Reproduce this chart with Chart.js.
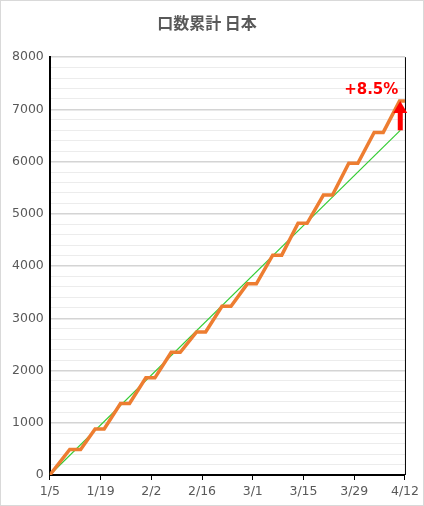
<!DOCTYPE html>
<html><head><meta charset="utf-8">
<script src="https://cdn.jsdelivr.net/npm/chart.js@4"></script>
<style>html,body{margin:0;padding:0;background:#fff}#w{position:absolute;left:0;top:0;width:422px;height:504px;border:1px solid #d9d9d9}canvas{display:block}</style>
</head><body><div id="w"><canvas id="c" width="422" height="504"></canvas></div>
<script>
const tickLabels = ["1/5","1/19","2/2","2/16","3/1","3/15","3/29","4/12"];
const levels = [490,880,1370,1860,2350,2740,3230,3660,4210,4820,5360,5970,6560,7160];
const plateauStart = [5.5,12.5,19.5,26.5,33.5,40.5,47.5,54.5,61.5,68.5,75.5,82.5,89.5,96.5];
const plateauEnd   = [8.5,15.0,22.0,29.0,36.0,43.0,50.0,57.0,64.0,71.0,78.0,85.0,92.0,98];
const trendX = [0,96.7];
const trendY = [0,6600];
const pctLabel = "+8.5%";

const actual = [{x:0,y:0}];
levels.forEach((v,i)=>{actual.push({x:plateauStart[i],y:v});actual.push({x:plateauEnd[i],y:v});});
const trend = trendX.map((x,i)=>({x,y:trendY[i]}));

const arrowPlugin = {id:'arrow',afterDatasetsDraw(ch){
  const {ctx,scales:{x,y},chartArea:a}=ch;
  ctx.save();
  ctx.strokeStyle='#000';ctx.lineWidth=1;
  ctx.beginPath();ctx.moveTo(a.right+0.5,a.top);ctx.lineTo(a.right+0.5,a.bottom);ctx.stroke();
  const px=x.getPixelForValue(trendX[1]);
  const y0=y.getPixelForValue(trendY[1]);
  const y1=y.getPixelForValue(levels[levels.length-1]);
  ctx.fillStyle='#ff0000';
  ctx.fillRect(px-2.5,y1+10,5,y0-y1-10);
  ctx.beginPath();ctx.moveTo(px,y1);ctx.lineTo(px-7,y1+12);ctx.lineTo(px+7,y1+12);ctx.closePath();ctx.fill();
  ctx.font='bold 15px "DejaVu Sans", sans-serif';ctx.textAlign='center';ctx.textBaseline='bottom';
  ctx.fillText(pctLabel,px-29,y1-3);
  ctx.restore();
}};

new Chart(document.getElementById('c'),{
  type:'scatter',
  data:{datasets:[
    {data:trend,showLine:true,borderColor:'#33cc33',borderWidth:1.2,pointRadius:0,order:2},
    {data:actual,showLine:true,borderColor:'#ed7d31',borderWidth:3.5,pointRadius:0,order:1}
  ]},
  options:{responsive:false,animation:false,
    layout:{padding:{left:5,right:15,top:0,bottom:2}},
    plugins:{legend:{display:false},tooltip:{enabled:false},
      title:{display:true,text:'口数累計 日本',color:'#595959',font:{size:16,weight:'bold',family:'"Noto Sans CJK JP", sans-serif'},padding:{top:12,bottom:25}}},
    scales:{
      x:{type:'linear',min:0,max:98,
        afterBuildTicks(s){s.ticks=tickLabels.map((_,i)=>({value:i*14}));},
        ticks:{callback:(v)=>tickLabels[Math.round(v/14)],color:'#595959',font:{size:12.5,family:'"DejaVu Sans", sans-serif'},maxRotation:0,padding:4},
        grid:{drawOnChartArea:false,drawTicks:true,tickLength:5,color:'#000'},
        border:{color:'#000',width:2}},
      y:{min:0,max:8000,
        ticks:{stepSize:200,autoSkip:false,callback:(v)=>v%1000===0?String(v):'',color:'#595959',font:{size:12.5,family:'"DejaVu Sans", sans-serif'},padding:6},
        grid:{color:(c)=>c.tick.value%1000===0?'#d4d4d4':'#ececec',drawTicks:false,lineWidth:(c)=>c.tick.value%1000===0?1.5:1},
        border:{color:'#000',width:2}}
    }
  },
  plugins:[arrowPlugin]
});
</script></body></html>
